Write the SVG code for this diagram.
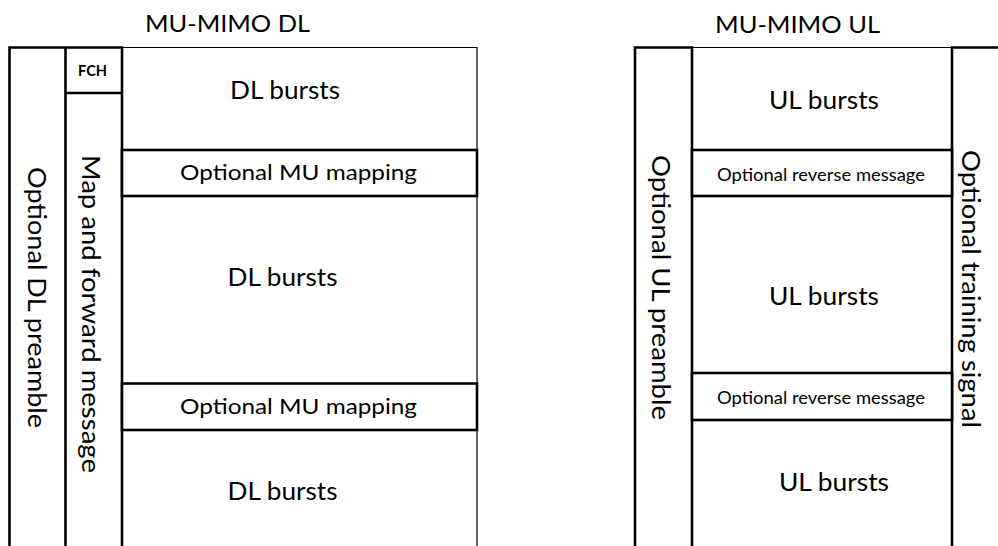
<svg xmlns="http://www.w3.org/2000/svg" width="998" height="546" viewBox="0 0 998 546">
<style>
.bg{fill:#ffffff}
.thick{stroke:#000;stroke-width:2.6;fill:none;stroke-linecap:square}
.thin{stroke:#000;stroke-width:1.2;fill:none}
.box{stroke:#000;stroke-width:2.6;fill:#ffffff}
text{font-family:Lato,"Liberation Sans",sans-serif;fill:#000;text-anchor:middle}
.title{font-size:24px}
.big{font-size:24.5px}
.mid{font-size:22px}
.small{font-size:17.5px}
.vert{font-size:25.5px}
.fch{font-size:15px;font-weight:bold}
</style>
<rect class="bg" x="0" y="0" width="998" height="546"/>

<g id="connectors">
  <!-- DL frame -->
  <path class="thin" d="M122 47.5 H477 V546"/>
  <path class="thick" d="M9.5 546 V47.5 H122 M65.5 47.5 V546 M122 47.5 V546 M65.5 93 H122"/>
  <!-- UL frame -->
  <path class="thin" d="M692 47.5 H952"/>
  <path class="thick" d="M635 546 V47.5 H692 M692 47.5 V546 M952 546 V47.5 H1000"/>
</g>

<g id="dl-title"><text class="title" x="227.5" y="32" textLength="165" lengthAdjust="spacingAndGlyphs">MU-MIMO DL</text></g>
<g id="ul-title"><text class="title" x="797.5" y="33" textLength="165" lengthAdjust="spacingAndGlyphs">MU-MIMO UL</text></g>

<g id="dl-preamble"><text class="vert" transform="translate(28,297.5) rotate(90)" textLength="261" lengthAdjust="spacingAndGlyphs">Optional DL preamble</text></g>
<g id="dl-map"><text class="vert" transform="translate(82,314) rotate(90)" textLength="318" lengthAdjust="spacingAndGlyphs">Map and forward message</text></g>
<g id="dl-fch"><text class="fch" x="92.5" y="76" textLength="29" lengthAdjust="spacingAndGlyphs">FCH</text></g>

<g id="dl-bursts-1"><text class="big" x="285" y="99" textLength="110" lengthAdjust="spacingAndGlyphs">DL bursts</text></g>
<g id="dl-mu-1"><rect class="box" x="122" y="150" width="355" height="46"/><text class="mid" x="298.5" y="180" textLength="237" lengthAdjust="spacingAndGlyphs">Optional MU mapping</text></g>
<g id="dl-bursts-2"><text class="big" x="282.5" y="286" textLength="110" lengthAdjust="spacingAndGlyphs">DL bursts</text></g>
<g id="dl-mu-2"><rect class="box" x="122" y="383.5" width="355" height="46.5"/><text class="mid" x="298.5" y="414" textLength="237" lengthAdjust="spacingAndGlyphs">Optional MU mapping</text></g>
<g id="dl-bursts-3"><text class="big" x="282.5" y="500" textLength="110" lengthAdjust="spacingAndGlyphs">DL bursts</text></g>

<g id="ul-preamble"><text class="vert" transform="translate(652,287.5) rotate(90)" textLength="265" lengthAdjust="spacingAndGlyphs">Optional UL preamble</text></g>
<g id="ul-training"><text class="vert" transform="translate(962,289) rotate(90)" textLength="278" lengthAdjust="spacingAndGlyphs">Optional training signal</text></g>

<g id="ul-bursts-1"><text class="big" x="824" y="108.5" textLength="110" lengthAdjust="spacingAndGlyphs">UL bursts</text></g>
<g id="ul-rev-1"><rect class="box" x="692" y="150" width="260" height="46"/><text class="small" x="821" y="180.5" textLength="208" lengthAdjust="spacingAndGlyphs">Optional reverse message</text></g>
<g id="ul-bursts-2"><text class="big" x="824" y="305" textLength="110" lengthAdjust="spacingAndGlyphs">UL bursts</text></g>
<g id="ul-rev-2"><rect class="box" x="692" y="373" width="260" height="47"/><text class="small" x="821" y="404" textLength="208" lengthAdjust="spacingAndGlyphs">Optional reverse message</text></g>
<g id="ul-bursts-3"><text class="big" x="834" y="491" textLength="110" lengthAdjust="spacingAndGlyphs">UL bursts</text></g>
</svg>
